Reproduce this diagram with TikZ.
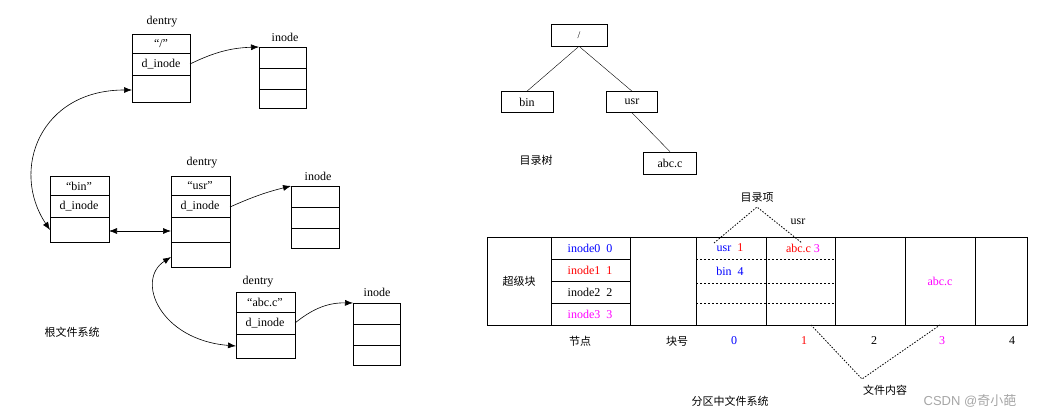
\documentclass[tikz,border=0pt]{standalone}
\usepackage{fontspec}
\setmainfont{Liberation Serif}
\newfontfamily\cjk{Noto Sans CJK SC}
\usetikzlibrary{arrows.meta}
\definecolor{mag}{RGB}{255,0,255}
\definecolor{blu}{RGB}{0,0,255}
\definecolor{rd}{RGB}{255,0,0}
\begin{document}
\begin{tikzpicture}[x=1pt,y=-1pt,
  box/.style={draw,line width=0.6pt},
  lbl/.style={font=\fontsize{12}{12}\selectfont,inner sep=1pt},
  cj/.style={font=\cjk\fontsize{11}{11}\selectfont,inner sep=1pt},
  arr/.style={-{Latex[length=8pt,width=6pt]},line width=0.6pt},
  darr/.style={{Latex[length=8pt,width=6pt]}-{Latex[length=8pt,width=6pt]},line width=0.6pt},
  dot/.style={dash pattern=on 1.5pt off 1.5pt,line width=0.8pt}]
\useasboundingbox (0,0) rectangle (1060,419);
% dentry "/"
\node[lbl] at (162,22) {dentry};
\draw[box] (132,34) rectangle (190,102); \draw (132,53)--(190,53) (132,75)--(190,75);
\node[lbl] at (161,44) {“/”}; \node[lbl] (rd) at (161,64) {d\_inode};
\coordinate (rdi) at (190,64); \coordinate (rde) at (132,90);
% inode 1
\node[lbl] at (285,37) {inode};
\draw[box] (259,47) rectangle (306,108); \draw (259,68)--(306,68) (259,89)--(306,89);
\coordinate (in1) at (259,47);
% bin
\draw[box] (50,176) rectangle (109,242); \draw (50,195)--(109,195) (50,217)--(109,217);
\node[lbl] at (79,186) {“bin”}; \node[lbl] at (79,206) {d\_inode};
\coordinate (bl) at (50,230); \coordinate (br) at (109,231);
% usr
\node[lbl] at (202,163) {dentry};
\draw[box] (171,176) rectangle (230,267); \draw (171,195)--(230,195) (171,217)--(230,217) (171,242)--(230,242);
\node[lbl] at (200,186) {“usr”}; \node[lbl] at (200,206) {d\_inode};
\coordinate (ul) at (171,231); \coordinate (ul2) at (171,257); \coordinate (udi) at (230,207);
% inode 2
\node[lbl] at (318,176) {inode};
\draw[box] (291,186) rectangle (339,248); \draw (291,207)--(339,207) (291,228)--(339,228);
\coordinate (in2) at (291,186);
% abc
\node[lbl] at (258,282) {dentry};
\draw[box] (236,292) rectangle (295,358); \draw (236,312)--(295,312) (236,334)--(295,334);
\node[lbl] at (265,302) {“abc.c”}; \node[lbl] at (265,323) {d\_inode};
\coordinate (al) at (236,346); \coordinate (adi) at (295,323);
% inode 3
\node[lbl] at (377,292) {inode};
\draw[box] (353,303) rectangle (400,365); \draw (353,324)--(400,324) (353,345)--(400,345);
\coordinate (in3) at (353,303);
\node[cj] at (72,332) {根文件系统};
% arrows
\draw[arr] (rdi) to[bend left=12] (in1);
\draw[arr] (udi) to[bend left=5] (in2);
\draw[arr] (adi) to[bend left=20] (in3);
\draw[darr] (bl) .. controls (10,170) and (40,90) .. (rde);
\draw[darr] (br) -- (ul);
\draw[darr] (ul2) .. controls (135,280) and (160,340) .. (al);
% tree
\node[box,minimum width=56pt,minimum height=22pt,inner sep=0pt] (t0) at (579,35) {/};
\node[box,minimum width=52pt,minimum height=21pt,inner sep=0pt,font=\fontsize{12}{12}\selectfont] (t1) at (527,102) {bin};
\node[box,minimum width=51pt,minimum height=21pt,inner sep=0pt,font=\fontsize{12}{12}\selectfont] (t2) at (632,102) {usr};
\node[box,minimum width=53pt,minimum height=22pt,inner sep=0pt,font=\fontsize{12}{12}\selectfont] (t3) at (670,163) {abc.c};
\draw (t0.south) -- (t1.north); \draw (t0.south) -- (t2.north); \draw (t2.south) -- (t3.north);
\node[cj] at (536,160) {目录树};
% partition
\draw[box] (487,237) rectangle (1027,325);
\foreach \x in {551,630,696,766,835,905,975} \draw (\x,237)--(\x,325);
\foreach \y in {259,281,303} \draw (551,\y)--(630,\y);
\foreach \y in {259,283,303} \draw[dash pattern=on 2pt off 2pt] (696,\y)--(835,\y);
\node[lbl,text=blu] at (590,248) {inode0\ \ 0};
\node[lbl,text=rd] at (590,270) {inode1\ \ 1};
\node[lbl] at (590,292) {inode2\ \ 2};
\node[lbl,text=mag] at (590,314) {inode3\ \ 3};
\node[lbl] at (730,248) {\textcolor{blu}{usr}\ \ \textcolor{rd}{1}};
\node[lbl] at (730,271) {\textcolor{blu}{bin}\ \ \textcolor{blu}{4}};
\node[lbl] at (803,248) {\textcolor{rd}{abc.c}\ \textcolor{mag}{3}};
\node[lbl,text=mag] at (940,281) {abc.c};
\node[cj] at (519,281) {超级块};
\node[cj] at (580,341) {节点};
\node[cj] at (677,341) {块号};
\node[lbl,text=blu] at (734,341) {0};
\node[lbl,text=rd] at (804,341) {1};
\node[lbl] at (874,341) {2};
\node[lbl,text=mag] at (942,341) {3};
\node[lbl] at (1012,341) {4};
\node[cj] (mlx) at (757,198) {目录项};
\node[lbl] at (798,222) {usr};
\coordinate (ap) at (757,207);
\draw[dot] (714,243) -- (ap) -- (802,243);
\node[cj] (wj) at (885,390) {文件内容};
\coordinate (ap2) at (862,379);
\draw[dot] (811,325) -- (ap2) -- (940,325);
\node[cj] at (730,401) {分区中文件系统};
\node[font=\fontsize{13}{13}\selectfont\setmainfont{Liberation Sans},text=gray!70,inner sep=0pt] at (970,401) {CSDN @{\cjk 奇小葩}};
\end{tikzpicture}
\end{document}
